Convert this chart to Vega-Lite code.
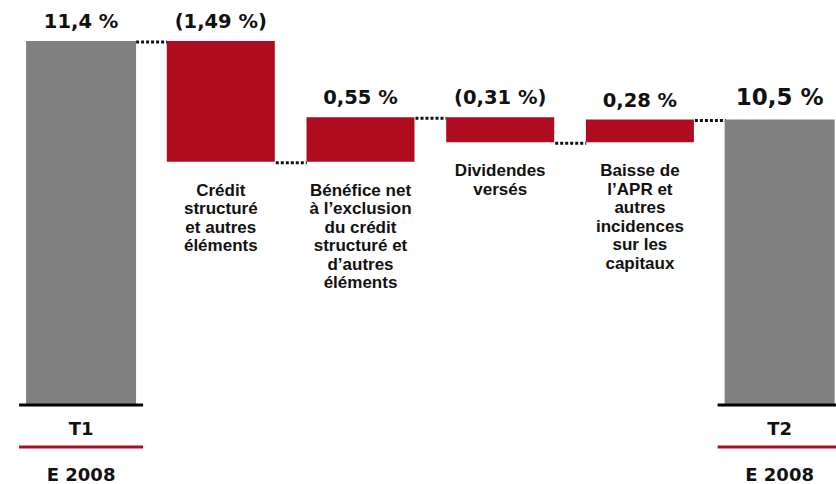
{
  "$schema": "https://vega.github.io/schema/vega-lite/v6.json",
  "width": 836,
  "height": 484,
  "autosize": {"type": "none"},
  "padding": 0,
  "background": "white",
  "config": {"view": {"stroke": null}, "text": {"font": "DejaVu Sans", "fontWeight": "bold", "color": "#111111"}},
  "data": {
    "values": [
      {"pos": 0, "kind": "total", "start": null, "end": 11.4, "label": "11,4 %", "desc": [], "period": "T1", "year": "E 2008"},
      {"pos": 1, "kind": "change", "start": 11.4, "end": 9.91, "label": "(1,49 %)", "desc": ["Crédit", "structuré", "et autres", "éléments"], "period": null, "year": null},
      {"pos": 2, "kind": "change", "start": 9.91, "end": 10.46, "label": "0,55 %", "desc": ["Bénéfice net", "à l’exclusion", "du crédit", "structuré et", "d’autres", "éléments"], "period": null, "year": null},
      {"pos": 3, "kind": "change", "start": 10.46, "end": 10.15, "label": "(0,31 %)", "desc": ["Dividendes", "versés"], "period": null, "year": null},
      {"pos": 4, "kind": "change", "start": 10.15, "end": 10.43, "label": "0,28 %", "desc": ["Baisse de", "l’APR et", "autres", "incidences", "sur les", "capitaux"], "period": null, "year": null},
      {"pos": 5, "kind": "total", "start": null, "end": 10.43, "label": "10,5 %", "desc": [], "period": "T2", "year": "E 2008"}
    ]
  },
  "transform": [
    {"calculate": "isValid(datum.start) ? max(datum.start, datum.end) : datum.end", "as": "top"},
    {"calculate": "isValid(datum.start) ? min(datum.start, datum.end) : datum.end", "as": "low"}
  ],
  "layer": [
    {
      "transform": [{"filter": "datum.pos < 5"}],
      "mark": {"type": "rule", "strokeDash": [3, 2], "strokeWidth": 3, "color": "#111111", "xOffset": 55, "x2Offset": 86, "yOffset": 1},
      "encoding": {
        "x": {"field": "pos", "type": "quantitative", "axis": null, "scale": {"domain": [-0.5446, 5.3678], "nice": false, "zero": false}},
        "x2": {"field": "pos"},
        "y": {"field": "end", "type": "quantitative", "axis": null, "scale": {"domain": [5.931, 11.906], "nice": false, "zero": false}}
      }
    },
    {
      "transform": [{"filter": "datum.kind == 'total'"}],
      "mark": {"type": "bar", "width": 110, "color": "#808080"},
      "encoding": {
        "x": {"field": "pos", "type": "quantitative", "axis": null, "scale": {"domain": [-0.5446, 5.3678], "nice": false, "zero": false}},
        "y": {"field": "end", "type": "quantitative", "axis": null, "scale": {"domain": [5.931, 11.906], "nice": false, "zero": false}},
        "y2": {"datum": 6.906}
      }
    },
    {
      "transform": [{"filter": "datum.kind == 'change'"}],
      "mark": {"type": "bar", "width": 108, "color": "#B00C1F"},
      "encoding": {
        "x": {"field": "pos", "type": "quantitative", "axis": null, "scale": {"domain": [-0.5446, 5.3678], "nice": false, "zero": false}},
        "y": {"field": "start", "type": "quantitative", "axis": null, "scale": {"domain": [5.931, 11.906], "nice": false, "zero": false}},
        "y2": {"field": "end"}
      }
    },
    {
      "transform": [{"filter": "datum.pos < 5"}],
      "mark": {"type": "text", "baseline": "middle", "align": "center", "dy": -19, "fontSize": 19.5},
      "encoding": {
        "x": {"field": "pos", "type": "quantitative", "axis": null, "scale": {"domain": [-0.5446, 5.3678], "nice": false, "zero": false}},
        "y": {"field": "top", "type": "quantitative", "axis": null, "scale": {"domain": [5.931, 11.906], "nice": false, "zero": false}},
        "text": {"field": "label"}
      }
    },
    {
      "transform": [{"filter": "datum.pos == 5"}],
      "mark": {"type": "text", "baseline": "middle", "align": "center", "dy": -22, "fontSize": 23},
      "encoding": {
        "x": {"field": "pos", "type": "quantitative", "axis": null, "scale": {"domain": [-0.5446, 5.3678], "nice": false, "zero": false}},
        "y": {"field": "top", "type": "quantitative", "axis": null, "scale": {"domain": [5.931, 11.906], "nice": false, "zero": false}},
        "text": {"field": "label"}
      }
    },
    {
      "transform": [{"filter": "datum.kind == 'change'"}],
      "mark": {"type": "text", "baseline": "top", "align": "center", "dy": 21, "font": "Liberation Sans", "fontSize": 17, "lineHeight": 18.5},
      "encoding": {
        "x": {"field": "pos", "type": "quantitative", "axis": null, "scale": {"domain": [-0.5446, 5.3678], "nice": false, "zero": false}},
        "y": {"field": "low", "type": "quantitative", "axis": null, "scale": {"domain": [5.931, 11.906], "nice": false, "zero": false}},
        "text": {"field": "desc"}
      }
    },
    {
      "transform": [{"filter": "datum.kind == 'total'"}],
      "mark": {"type": "rule", "strokeWidth": 3, "color": "#000000", "xOffset": -62, "x2Offset": 62},
      "encoding": {
        "x": {"field": "pos", "type": "quantitative", "axis": null, "scale": {"domain": [-0.5446, 5.3678], "nice": false, "zero": false}},
        "x2": {"field": "pos"},
        "y": {"datum": 6.906, "type": "quantitative", "axis": null, "scale": {"domain": [5.931, 11.906], "nice": false, "zero": false}}
      }
    },
    {
      "transform": [{"filter": "datum.kind == 'total'"}],
      "mark": {"type": "rule", "strokeWidth": 3, "color": "#B00C1F", "xOffset": -62, "x2Offset": 62},
      "encoding": {
        "x": {"field": "pos", "type": "quantitative", "axis": null, "scale": {"domain": [-0.5446, 5.3678], "nice": false, "zero": false}},
        "x2": {"field": "pos"},
        "y": {"datum": 6.388, "type": "quantitative", "axis": null, "scale": {"domain": [5.931, 11.906], "nice": false, "zero": false}}
      }
    },
    {
      "transform": [{"filter": "datum.kind == 'total'"}],
      "mark": {"type": "text", "baseline": "middle", "align": "center", "fontSize": 18},
      "encoding": {
        "x": {"field": "pos", "type": "quantitative", "axis": null, "scale": {"domain": [-0.5446, 5.3678], "nice": false, "zero": false}},
        "y": {"datum": 6.597, "type": "quantitative", "axis": null, "scale": {"domain": [5.931, 11.906], "nice": false, "zero": false}},
        "text": {"field": "period"}
      }
    },
    {
      "transform": [{"filter": "datum.kind == 'total'"}],
      "mark": {"type": "text", "baseline": "middle", "align": "center", "fontSize": 18},
      "encoding": {
        "x": {"field": "pos", "type": "quantitative", "axis": null, "scale": {"domain": [-0.5446, 5.3678], "nice": false, "zero": false}},
        "y": {"datum": 6.03, "type": "quantitative", "axis": null, "scale": {"domain": [5.931, 11.906], "nice": false, "zero": false}},
        "text": {"field": "year"}
      }
    }
  ]
}
